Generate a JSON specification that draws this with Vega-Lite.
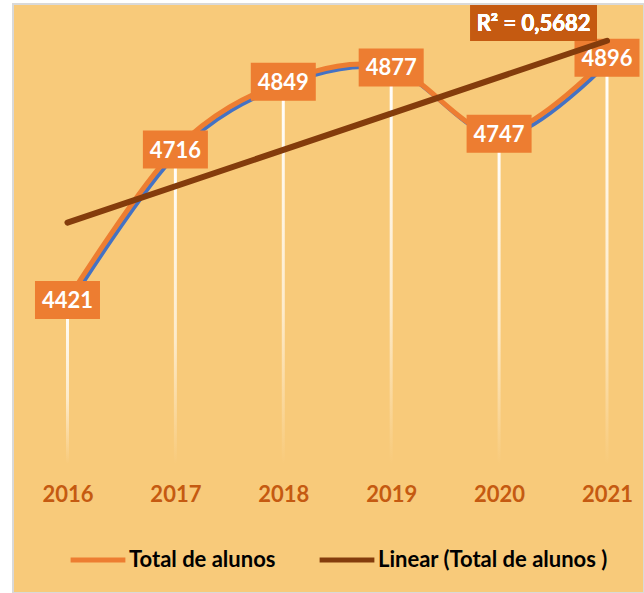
{
  "$schema": "https://vega.github.io/schema/vega-lite/v6.json",
  "width": 631,
  "height": 589,
  "autosize": {"type": "none"},
  "padding": {"left": 13, "top": 4, "right": 0, "bottom": 0},
  "background": "#FFFFFF",
  "config": {
    "view": {"fill": "#F8CA7A", "stroke": "#D9D9D9", "strokeWidth": 2},
    "font": "Lato"
  },
  "data": {
    "values": [
      {"year": 2016, "value": 4421},
      {"year": 2017, "value": 4716},
      {"year": 2018, "value": 4849},
      {"year": 2019, "value": 4877},
      {"year": 2020, "value": 4747},
      {"year": 2021, "value": 4896}
    ]
  },
  "resolve": {"scale": {"x": "independent", "y": "independent"}},
  "layer": [
    {
      "mark": {
        "type": "bar",
        "size": 3,
        "color": {
          "gradient": "linear", "x1": 0, "y1": 0, "x2": 0, "y2": 1,
          "stops": [
            {"offset": 0, "color": "#FFFFFF"},
            {"offset": 0.6, "color": "#FDEBCB"},
            {"offset": 1, "color": "#F8CA7A"}
          ]
        }
      },
      "encoding": {
        "x": {"field": "year", "type": "quantitative", "scale": {"domain": [2015.495, 2021.343], "nice": false, "padding": 0},
          "axis": {"orient": "bottom", "offset": -99, "values": [2016, 2017, 2018, 2019, 2020, 2021], "format": "d",
            "domain": false, "ticks": false, "tickSize": 0, "grid": false, "labelPadding": 0, "labelBaseline": "middle",
            "labelFont": "Lato", "labelFontSize": 22, "labelFontWeight": "bold", "labelColor": "#C55A11", "title": null}},
        "y": {"field": "value", "type": "quantitative", "scale": {"domain": [3846.5, 5001.4], "nice": false, "zero": false}, "axis": null},
        "y2": {"datum": 4100}
      }
    },
    {
      "mark": {"type": "line", "interpolate": "cardinal", "stroke": "#4472C4", "strokeWidth": 4},
      "encoding": {
        "x": {"field": "year", "type": "quantitative", "scale": {"domain": [2015.471, 2021.319], "nice": false}, "axis": null},
        "y": {"field": "value", "type": "quantitative", "scale": {"domain": [3852.4, 5007.3], "nice": false, "zero": false}, "axis": null}
      }
    },
    {
      "mark": {"type": "line", "interpolate": "cardinal", "strokeWidth": 5},
      "encoding": {
        "x": {"field": "year", "type": "quantitative", "scale": {"domain": [2015.495, 2021.343], "nice": false}, "axis": null},
        "y": {"field": "value", "type": "quantitative", "scale": {"domain": [3846.5, 5001.4], "nice": false, "zero": false}, "axis": null},
        "color": {"datum": "Total de alunos", "type": "nominal",
          "scale": {"domain": ["Total de alunos", "Linear (Total de alunos )"], "range": ["#ED7D31", "#843C0C"]},
          "legend": {"orient": "none", "direction": "horizontal", "legendX": 55, "legendY": 526, "title": null,
            "symbolType": "stroke", "symbolSize": 3000, "symbolStrokeWidth": 5, "labelFont": "Lato",
            "labelFontSize": 22, "labelFontWeight": "bold", "labelColor": "#000000", "labelOffset": 1,
            "columnPadding": 33, "padding": 0, "labelLimit": 400}}
      }
    },
    {
      "mark": {"type": "point", "shape": "M-1,-0.585H1V0.585H-1Z", "size": 4225, "filled": true, "fill": "#ED7D31", "opacity": 1, "strokeWidth": 0},
      "encoding": {
        "x": {"field": "year", "type": "quantitative", "scale": {"domain": [2015.495, 2021.343], "nice": false}, "axis": null},
        "y": {"field": "value", "type": "quantitative", "scale": {"domain": [3846.5, 5001.4], "nice": false, "zero": false}, "axis": null}
      }
    },
    {
      "mark": {"type": "text", "font": "Lato", "fontSize": 22, "fontWeight": "bold", "color": "#FFFFFF", "baseline": "middle", "dy": 1},
      "encoding": {
        "x": {"field": "year", "type": "quantitative", "scale": {"domain": [2015.495, 2021.343], "nice": false}, "axis": null},
        "y": {"field": "value", "type": "quantitative", "scale": {"domain": [3846.5, 5001.4], "nice": false, "zero": false}, "axis": null},
        "text": {"field": "value", "type": "quantitative", "format": "d"}
      }
    },
    {
      "transform": [{"regression": "value", "on": "year", "extent": [2016, 2021]}],
      "mark": {"type": "line", "strokeWidth": 6, "strokeCap": "round"},
      "encoding": {
        "x": {"field": "year", "type": "quantitative", "scale": {"domain": [2015.495, 2021.343], "nice": false}, "axis": null},
        "y": {"field": "value", "type": "quantitative", "scale": {"domain": [3846.5, 5001.4], "nice": false, "zero": false}, "axis": null},
        "color": {"datum": "Linear (Total de alunos )", "type": "nominal"}
      }
    },
    {
      "mark": {"type": "point", "shape": "M-1,-0.2857H1V0.2857H-1Z", "size": 15876, "filled": true, "fill": "#C55A11", "opacity": 1, "strokeWidth": 0},
      "encoding": {
        "x": {"datum": 2020.32, "type": "quantitative", "scale": {"domain": [2015.495, 2021.343], "nice": false}, "axis": null},
        "y": {"datum": 4964, "type": "quantitative", "scale": {"domain": [3846.5, 5001.4], "nice": false, "zero": false}, "axis": null}
      }
    },
    {
      "mark": {"type": "text", "font": "Lato", "fontSize": 22, "fontWeight": "bold", "color": "#FFFFFF", "baseline": "middle", "dy": 1, "text": "R² = 0,5682"},
      "encoding": {
        "x": {"datum": 2020.32, "type": "quantitative", "scale": {"domain": [2015.495, 2021.343], "nice": false}, "axis": null},
        "y": {"datum": 4964, "type": "quantitative", "scale": {"domain": [3846.5, 5001.4], "nice": false, "zero": false}, "axis": null}
      }
    }
  ]
}
